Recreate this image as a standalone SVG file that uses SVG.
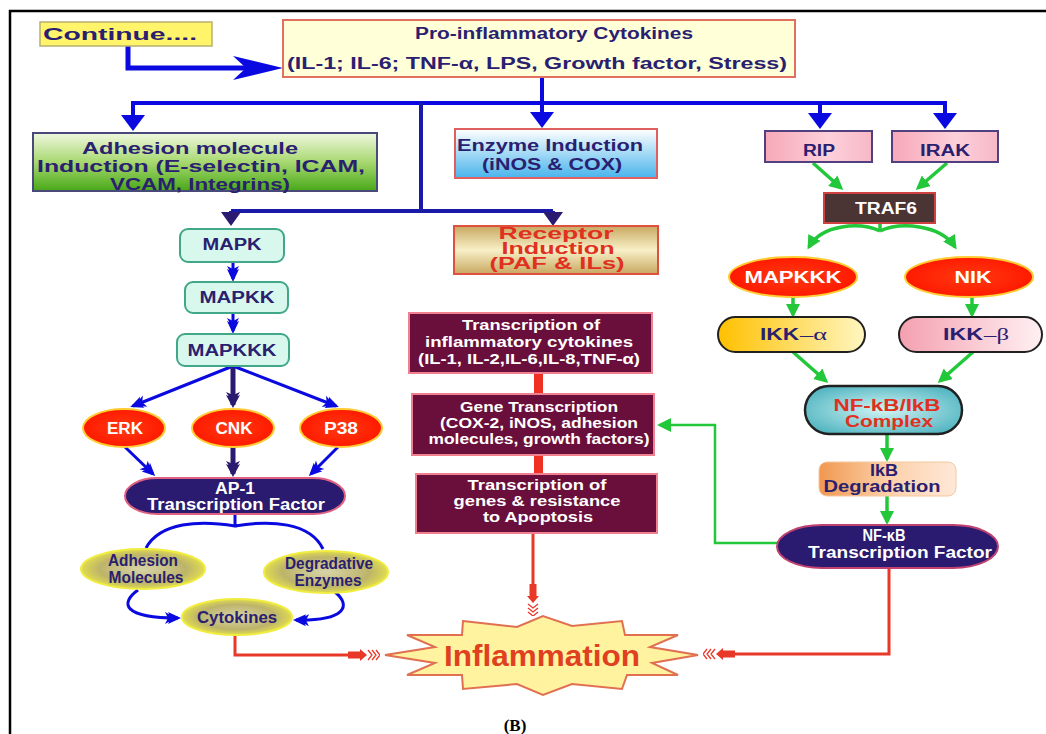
<svg xmlns="http://www.w3.org/2000/svg" width="1046" height="734" viewBox="0 0 1046 734">
<style>
.t{font-family:"Liberation Sans",Arial,sans-serif;font-weight:bold;font-size:16px;text-anchor:middle}
.s14{font-size:14.5px}
.nv{fill:#2a2070}
.wh{fill:#ffffff}
.rd{fill:#e03020}
.bl{fill:none;stroke:#0a0ae0;stroke-width:4}
.bl3{fill:none;stroke:#0a0ae0;stroke-width:3}
.nvl{fill:none;stroke:#2a1a70;stroke-width:5}
.gr{fill:none;stroke:#22c83a;stroke-width:3.5}
.re{fill:none;stroke:#e83828;stroke-width:3}
.mar{fill:#6a0f3c;stroke:#f08090;stroke-width:2}
.redov{fill:url(#gRedE);stroke:#ffcc33;stroke-width:2}
.kha{fill:url(#gKha);stroke:#f0ec40;stroke-width:2}
.mint{fill:#d8f8ee;stroke:#40a888;stroke-width:2}
</style>
<defs>
<linearGradient id="gAdh" x1="0" y1="0" x2="0" y2="1"><stop offset="0" stop-color="#f0f8e0"/><stop offset="0.5" stop-color="#a8d870"/><stop offset="1" stop-color="#48a818"/></linearGradient>
<linearGradient id="gEnz" x1="0" y1="0" x2="0" y2="1"><stop offset="0" stop-color="#ffffff"/><stop offset="1" stop-color="#48b4ec"/></linearGradient>
<linearGradient id="gPink" x1="0" y1="0" x2="1" y2="0"><stop offset="0" stop-color="#f7a8b8"/><stop offset="0.6" stop-color="#fcd0da"/><stop offset="1" stop-color="#f8b8c8"/></linearGradient>
<linearGradient id="gRec" x1="0" y1="0" x2="0" y2="1"><stop offset="0" stop-color="#c8a860"/><stop offset="0.5" stop-color="#f8f0c8"/><stop offset="1" stop-color="#c8a860"/></linearGradient>
<radialGradient id="gKha" cx="0.5" cy="0.5" r="0.5"><stop offset="0" stop-color="#d8d4a8"/><stop offset="0.7" stop-color="#bdb46a"/><stop offset="1" stop-color="#e0dc50"/></radialGradient>
<radialGradient id="gRedE" cx="0.5" cy="0.5" r="0.5"><stop offset="0" stop-color="#ff3a10"/><stop offset="1" stop-color="#ff1a00"/></radialGradient>
<linearGradient id="gIKa" x1="0" y1="0" x2="1" y2="0"><stop offset="0" stop-color="#ffc000"/><stop offset="1" stop-color="#fff6c0"/></linearGradient>
<linearGradient id="gIKb" x1="0" y1="0" x2="1" y2="0"><stop offset="0" stop-color="#f4a0b0"/><stop offset="1" stop-color="#fff0f2"/></linearGradient>
<radialGradient id="gCx" cx="0.5" cy="0.5" r="0.6"><stop offset="0" stop-color="#d0f4f4"/><stop offset="1" stop-color="#50b4c0"/></radialGradient>
<linearGradient id="gIkB" x1="0" y1="0" x2="1" y2="0"><stop offset="0" stop-color="#f09850"/><stop offset="0.5" stop-color="#fcd0a8"/><stop offset="1" stop-color="#ffe8d8"/></linearGradient>
<marker id="mDbl" markerUnits="userSpaceOnUse" viewBox="0 -7 16 14" markerWidth="16" markerHeight="14" refX="13" refY="0" orient="auto"><path d="M16,0 L3,-6 L6,0 L3,6 Z M11,0 L0,-6 L3,0 L0,6 Z" fill="#0a0ae0"/></marker>
<marker id="mDblN" markerUnits="userSpaceOnUse" viewBox="0 -8 16 16" markerWidth="16" markerHeight="16" refX="13" refY="0" orient="auto"><path d="M16,0 L3,-7 L6,0 L3,7 Z M11,0 L0,-7 L3,0 L0,7 Z" fill="#2a1a70"/></marker>
<marker id="mG" markerUnits="userSpaceOnUse" viewBox="0 -7 14 14" markerWidth="14" markerHeight="14" refX="11" refY="0" orient="auto"><path d="M0,-7 L14,0 L0,7 Z" fill="#22c83a"/></marker>
<marker id="mR" markerUnits="userSpaceOnUse" viewBox="0 -7 32 14" markerWidth="32" markerHeight="14" refX="0" refY="0" orient="auto"><rect x="0" y="-3.5" width="12" height="7" fill="#e83828"/><path d="M12,-6 L19,0 L12,6 Z" fill="#e83828"/><path d="M20,-5 L24,0 L20,5 M24,-5 L28,0 L24,5 M28,-5 L32,0 L28,5" fill="none" stroke="#e83828" stroke-width="1.3"/></marker>
</defs>
<rect width="1046" height="734" fill="#ffffff"/>
<path d="M10,734 V11 H1046" fill="none" stroke="#000" stroke-width="2.5"/>

<g id="connectors">
<path d="M128,46 V68 H246" fill="none" stroke="#0a0ae0" stroke-width="5"/>
<polygon points="233,56 283,68 233,80 246,68" fill="#0a0ae0"/>
<path class="bl" d="M542,77 V103 M131,103 H947 M133,103 V116 M542,103 V113 M820,103 V114 M945,103 V114"/>
<polygon points="121,115 145,115 133,131" fill="#0a0ae0"/>
<polygon points="530,112 554,112 542,128" fill="#0a0ae0"/>
<polygon points="808,113 832,113 820,129" fill="#0a0ae0"/>
<polygon points="933,113 957,113 945,129" fill="#0a0ae0"/>
<path d="M421,103 V211 M231,211 H553 M231,211 V214 M553,211 V214" fill="none" stroke="#1a1aa8" stroke-width="4"/>
<polygon points="221,212 241,212 231,226" fill="#2a1a70"/>
<polygon points="543,212 563,212 553,226" fill="#2a1a70"/>
<path class="bl3" d="M233,262 V279" marker-end="url(#mDbl)"/>
<path class="bl3" d="M233,313 V331" marker-end="url(#mDbl)"/>
<path class="bl3" d="M233,366 L133,406" marker-end="url(#mDbl)"/>
<path class="nvl" d="M233,366 V405" marker-end="url(#mDblN)"/>
<path class="bl3" d="M233,366 L336,406" marker-end="url(#mDbl)"/>
<path class="bl3" d="M125,447 L153,474" marker-end="url(#mDbl)"/>
<path class="nvl" d="M233,447 V474" marker-end="url(#mDblN)"/>
<path class="bl3" d="M338,447 L311,474" marker-end="url(#mDbl)"/>
<path class="bl3" d="M235,514 V526 C200,520 160,522 146,548 M235,526 C270,520 310,522 323,549"/>
<path class="bl3" d="M138,590 C120,603 122,618 178,618" marker-end="url(#mDbl)"/>
<path class="bl3" d="M335,592 C352,606 345,621 296,620" marker-end="url(#mDbl)"/>
<path class="gr" d="M813,163 L841,188" marker-end="url(#mG)"/>
<path class="gr" d="M947,163 L918,188" marker-end="url(#mG)"/>
<path class="gr" d="M880,223 V231"/>
<path class="gr" d="M880,231 C860,222 822,224 809,247" marker-end="url(#mG)"/>
<path class="gr" d="M880,231 C900,222 940,224 955,247" marker-end="url(#mG)"/>
<path class="gr" d="M793,297 V315" marker-end="url(#mG)"/>
<path class="gr" d="M972,297 V315" marker-end="url(#mG)"/>
<path class="gr" d="M793,352 L826,381" marker-end="url(#mG)"/>
<path class="gr" d="M973,352 L940,381" marker-end="url(#mG)"/>
<path class="gr" d="M887,434 V459" marker-end="url(#mG)"/>
<path class="gr" d="M887,496 V522" marker-end="url(#mG)"/>
<path d="M778,543 H715 V425 H660" fill="none" stroke="#22c83a" stroke-width="2.5" marker-end="url(#mG)"/>
<rect x="534" y="373" width="9" height="21" fill="#f03020"/>
<rect x="534" y="455" width="9" height="19" fill="#f03020"/>
<path class="re" d="M235,635 V655 H348" marker-end="url(#mR)"/>
<path class="re" d="M533,533 V584" marker-end="url(#mR)"/>
<path class="re" d="M889,568 V654 H735" marker-end="url(#mR)"/>
</g>

<g id="continue">
<rect x="40" y="22" width="172" height="24" fill="#fff46a" stroke="#b8b070" stroke-width="1.5"/>
<text class="t nv" x="120" y="40" textLength="154" lengthAdjust="spacingAndGlyphs">Continue....</text>
</g>
<g id="cytokines-top">
<rect x="283" y="20" width="512" height="57" fill="#ffffd8" stroke="#e07060" stroke-width="2"/>
<text class="t nv" x="554" y="39" textLength="278" lengthAdjust="spacingAndGlyphs">Pro-inflammatory Cytokines</text>
<text class="t nv" x="537" y="69" textLength="500" lengthAdjust="spacingAndGlyphs">(IL-1; IL-6; TNF-α, LPS, Growth factor, Stress)</text>
</g>
<g id="adhesion-induction">
<rect x="33" y="133" width="344" height="58" fill="url(#gAdh)" stroke="#4a4a7a" stroke-width="2"/>
<text class="t nv" x="190" y="154" textLength="216" lengthAdjust="spacingAndGlyphs">Adhesion molecule</text>
<text class="t nv" x="201" y="172" textLength="328" lengthAdjust="spacingAndGlyphs">Induction  (E-selectin, ICAM,</text>
<text class="t nv" x="200" y="190" textLength="180" lengthAdjust="spacingAndGlyphs">VCAM, Integrins)</text>
</g>
<g id="enzyme-induction">
<rect x="455" y="129" width="202" height="49" fill="url(#gEnz)" stroke="#e06060" stroke-width="2"/>
<text class="t nv" x="550" y="151" textLength="186" lengthAdjust="spacingAndGlyphs">Enzyme Induction</text>
<text class="t nv" x="552" y="170" textLength="140" lengthAdjust="spacingAndGlyphs">(iNOS &amp; COX)</text>
</g>
<g id="rip">
<rect x="765" y="131" width="107" height="31" fill="url(#gPink)" stroke="#504080" stroke-width="2"/>
<text class="t nv" x="819" y="156" textLength="32" lengthAdjust="spacingAndGlyphs">RIP</text>
</g>
<g id="irak">
<rect x="892" y="131" width="106" height="31" fill="url(#gPink)" stroke="#504080" stroke-width="2"/>
<text class="t nv" x="945" y="156" textLength="50" lengthAdjust="spacingAndGlyphs">IRAK</text>
</g>
<g id="traf6">
<rect x="824" y="193" width="111" height="30" fill="#4a3434" stroke="#d04040" stroke-width="2"/>
<text class="t wh" x="886" y="214" textLength="62" lengthAdjust="spacingAndGlyphs">TRAF6</text>
</g>
<g id="mapk">
<rect class="mint" x="180" y="229" width="104" height="33" rx="8"/>
<text class="t nv" x="232" y="250" textLength="59" lengthAdjust="spacingAndGlyphs">MAPK</text>
</g>
<g id="mapkk">
<rect class="mint" x="185" y="282" width="103" height="31" rx="8"/>
<text class="t nv" x="237" y="303" textLength="75" lengthAdjust="spacingAndGlyphs">MAPKK</text>
</g>
<g id="mapkkk-left">
<rect class="mint" x="177" y="334" width="112" height="32" rx="8"/>
<text class="t nv" x="232" y="356" textLength="89" lengthAdjust="spacingAndGlyphs">MAPKKK</text>
</g>
<g id="erk">
<ellipse class="redov" cx="124" cy="428" rx="41" ry="19"/>
<text class="t wh" x="125" y="434" textLength="36" lengthAdjust="spacingAndGlyphs">ERK</text>
</g>
<g id="cnk">
<ellipse class="redov" cx="233" cy="428" rx="41" ry="19"/>
<text class="t wh" x="234" y="434" textLength="37" lengthAdjust="spacingAndGlyphs">CNK</text>
</g>
<g id="p38">
<ellipse class="redov" cx="341" cy="428" rx="41" ry="19"/>
<text class="t wh" x="341" y="434" textLength="34" lengthAdjust="spacingAndGlyphs">P38</text>
</g>
<g id="ap1">
<rect x="125" y="478" width="220" height="36" rx="32" ry="18" fill="#2a1a70" stroke="#e06080" stroke-width="2"/>
<text class="t wh" x="235" y="494" textLength="40" lengthAdjust="spacingAndGlyphs">AP-1</text>
<text class="t wh" x="236" y="510" textLength="178" lengthAdjust="spacingAndGlyphs">Transcription Factor</text>
</g>
<g id="adhesion-molecules">
<ellipse class="kha" cx="143" cy="569" rx="62" ry="20"/>
<text class="t nv" x="143" y="566" textLength="70" lengthAdjust="spacingAndGlyphs">Adhesion</text>
<text class="t nv" x="146" y="583" textLength="75" lengthAdjust="spacingAndGlyphs">Molecules</text>
</g>
<g id="degradative-enzymes">
<ellipse class="kha" cx="326" cy="572" rx="62" ry="21"/>
<text class="t nv" x="329" y="569" textLength="88" lengthAdjust="spacingAndGlyphs">Degradative</text>
<text class="t nv" x="328" y="586" textLength="67" lengthAdjust="spacingAndGlyphs">Enzymes</text>
</g>
<g id="cytokines">
<ellipse class="kha" cx="237" cy="617" rx="55" ry="18"/>
<text class="t nv" x="237" y="623" textLength="80" lengthAdjust="spacingAndGlyphs">Cytokines</text>
</g>
<g id="receptor-induction">
<rect x="454" y="226" width="204" height="48" fill="url(#gRec)" stroke="#e05040" stroke-width="2"/>
<text class="t rd" x="556" y="239" textLength="115" lengthAdjust="spacingAndGlyphs">Receptor</text>
<text class="t rd" x="558" y="254" textLength="113" lengthAdjust="spacingAndGlyphs">Induction</text>
<text class="t rd" x="557" y="269" textLength="135" lengthAdjust="spacingAndGlyphs">(PAF &amp; ILs)</text>
</g>
<g id="transcription-cytokines">
<rect class="mar" x="409" y="313" width="243" height="60"/>
<text class="t s14 wh" x="531" y="330" textLength="138" lengthAdjust="spacingAndGlyphs">Transcription of</text>
<text class="t s14 wh" x="529" y="347" textLength="208" lengthAdjust="spacingAndGlyphs">inflammatory  cytokines</text>
<text class="t s14 wh" x="529" y="364" textLength="222" lengthAdjust="spacingAndGlyphs">(IL-1, IL-2,IL-6,IL-8,TNF-α)</text>
</g>
<g id="gene-transcription">
<rect class="mar" x="412" y="394" width="242" height="61"/>
<text class="t s14 wh" x="539" y="412" textLength="158" lengthAdjust="spacingAndGlyphs" font-weight="normal">Gene Transcription</text>
<text class="t s14 wh" x="539" y="428" textLength="198" lengthAdjust="spacingAndGlyphs" font-weight="normal">(COX-2, iNOS, adhesion</text>
<text class="t s14 wh" x="539" y="444" textLength="221" lengthAdjust="spacingAndGlyphs" font-weight="normal">molecules, growth factors)</text>
</g>
<g id="transcription-apoptosis">
<rect class="mar" x="416" y="474" width="241" height="59"/>
<text class="t s14 wh" x="537" y="490" textLength="139" lengthAdjust="spacingAndGlyphs">Transcription of</text>
<text class="t s14 wh" x="537" y="506" textLength="167" lengthAdjust="spacingAndGlyphs">genes &amp; resistance</text>
<text class="t s14 wh" x="538" y="522" textLength="110" lengthAdjust="spacingAndGlyphs">to Apoptosis</text>
</g>
<g id="mapkkk-right">
<ellipse class="redov" cx="793" cy="277" rx="64" ry="20"/>
<text class="t wh" x="793" y="283" textLength="97" lengthAdjust="spacingAndGlyphs">MAPKKK</text>
</g>
<g id="nik">
<ellipse class="redov" cx="969" cy="277" rx="64" ry="20"/>
<text class="t wh" x="973" y="283" textLength="37" lengthAdjust="spacingAndGlyphs">NIK</text>
</g>
<g id="ikk-alpha">
<rect x="718" y="317" width="147" height="35" rx="17.5" fill="url(#gIKa)" stroke="#202020" stroke-width="2"/>
<text class="t nv" style="text-anchor:start" y="340"><tspan x="760" textLength="39" lengthAdjust="spacingAndGlyphs">IKK</tspan><tspan x="800" textLength="27" lengthAdjust="spacingAndGlyphs" font-family="Liberation Serif, serif" font-weight="normal" font-size="17">–α</tspan></text>
</g>
<g id="ikk-beta">
<rect x="899" y="317" width="143" height="35" rx="17.5" fill="url(#gIKb)" stroke="#202020" stroke-width="2"/>
<text class="t nv" style="text-anchor:start" y="340"><tspan x="943" textLength="40" lengthAdjust="spacingAndGlyphs">IKK</tspan><tspan x="984" textLength="25" lengthAdjust="spacingAndGlyphs" font-family="Liberation Serif, serif" font-weight="normal" font-size="17">–β</tspan></text>
</g>
<g id="nfkb-complex">
<rect x="805" y="386" width="157" height="48" rx="24" fill="url(#gCx)" stroke="#202020" stroke-width="2.5"/>
<text class="t rd" x="887" y="411" textLength="107" lengthAdjust="spacingAndGlyphs">NF-kB/IkB</text>
<text class="t rd" x="889" y="427" textLength="88" lengthAdjust="spacingAndGlyphs">Complex</text>
</g>
<g id="ikb-degradation">
<rect x="819" y="462" width="137" height="34" rx="8" fill="url(#gIkB)" stroke="#f4c8a0" stroke-width="1"/>
<text class="t nv" x="884" y="476" textLength="28" lengthAdjust="spacingAndGlyphs">IkB</text>
<text class="t nv" x="882" y="492" textLength="117" lengthAdjust="spacingAndGlyphs">Degradation</text>
</g>
<g id="nfkb-tf">
<rect x="777" y="525" width="221" height="43" rx="45" ry="21.5" fill="#2a1a70" stroke="#c04070" stroke-width="2"/>
<text class="t wh" x="884" y="541" textLength="43" lengthAdjust="spacingAndGlyphs">NF-κB</text>
<text class="t wh" x="900" y="558" textLength="184" lengthAdjust="spacingAndGlyphs">Transcription Factor</text>
</g>
<g id="inflammation">
<polygon points="463,621 517,627 543,616 572,626 622,621 625,635 678,635 650,647 698,655 652,663 678,675 627,675 622,689 572,684 543,695 517,684 463,689 462,675 407,675 435,663 385,655 435,647 407,635 462,635" fill="#fff3a0" stroke="#e07050" stroke-width="2"/>
<text class="t rd" x="542" y="666" textLength="196" lengthAdjust="spacingAndGlyphs" style="font-size:30px;fill:#e04020">Inflammation</text>
</g>
<text x="515" y="731" font-family="Liberation Serif, serif" font-weight="bold" font-size="17" text-anchor="middle" fill="#000">(B)</text>
</svg>
